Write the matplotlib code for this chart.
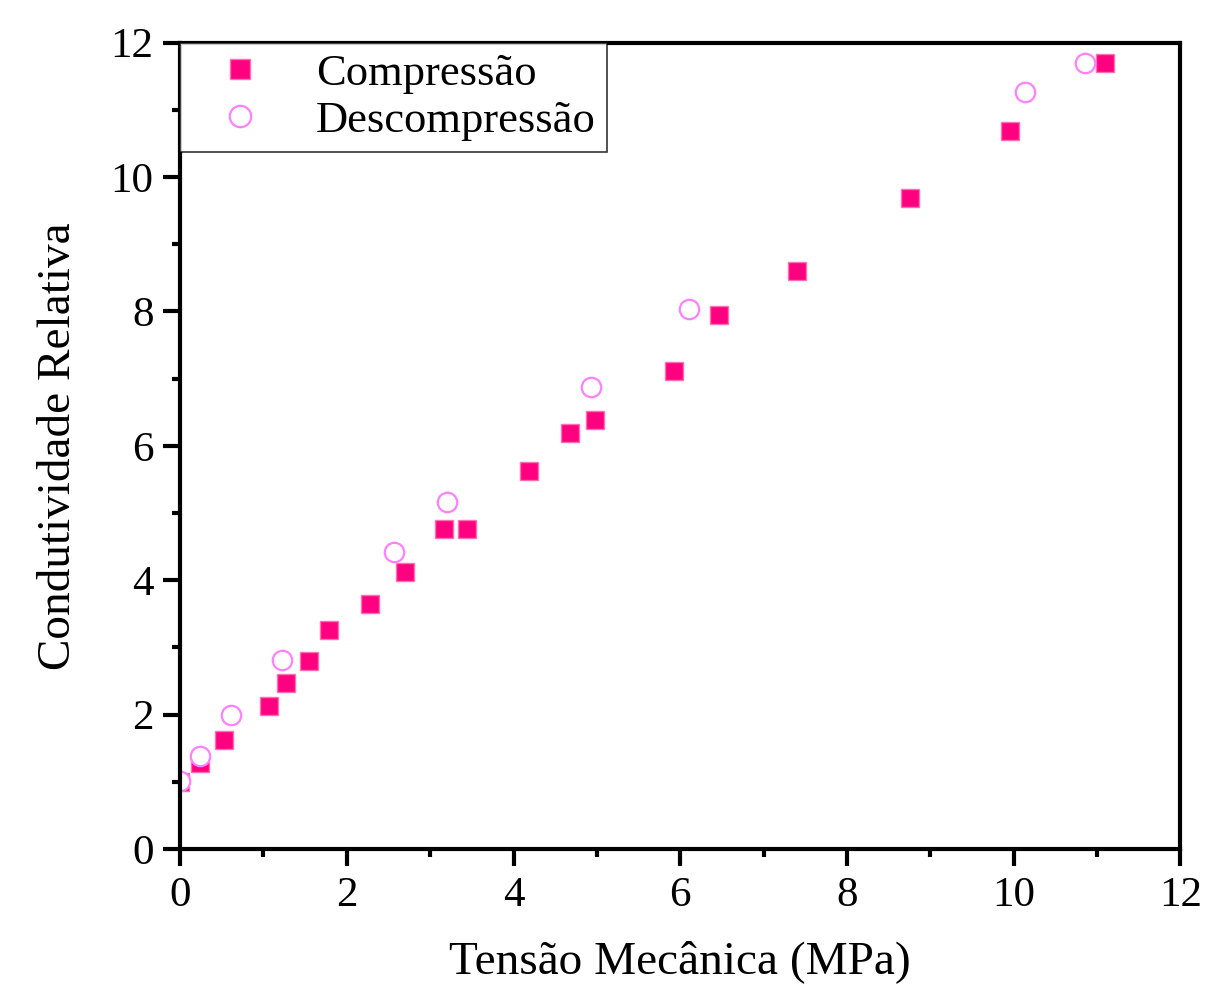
import matplotlib
matplotlib.use("Agg")
import matplotlib.pyplot as plt
from matplotlib.ticker import MultipleLocator

# Compressão (filled squares)
comp_x = [0.0, 0.24, 0.53, 1.07, 1.27, 1.55, 1.79, 2.28, 2.70, 3.16, 3.44,
          4.19, 4.68, 4.98, 5.92, 6.46, 7.40, 8.76, 9.96, 11.10]
comp_y = [1.00, 1.28, 1.62, 2.13, 2.47, 2.80, 3.26, 3.65, 4.12, 4.76, 4.76,
          5.63, 6.19, 6.39, 7.12, 7.95, 8.60, 9.69, 10.69, 11.70]

# Descompressão (open circles)
desc_x = [0.0, 0.24, 0.61, 1.22, 2.56, 3.20, 4.93, 6.10, 10.14, 10.86]
desc_y = [1.01, 1.39, 1.99, 2.81, 4.42, 5.17, 6.88, 8.04, 11.27, 11.70]

plt.rcParams["font.family"] = ["Liberation Serif", "DejaVu Serif"]

fig = plt.figure(figsize=(12.17, 9.93), dpi=100)
ax = fig.add_axes([0.148, 0.145, 0.822, 0.812])

ax.plot(comp_x, comp_y, ls="none", marker="s", markersize=13,
        markerfacecolor="#FF0080", markeredgecolor="#FF70B0",
        markeredgewidth=1, label="Compressão")
ax.plot(desc_x, desc_y, ls="none", marker="o", markersize=14,
        markerfacecolor="white", markeredgecolor="#FF80FF",
        markeredgewidth=1.6, label="Descompressão")

ax.set_xlim(0, 12)
ax.set_ylim(0, 12)
ax.xaxis.set_major_locator(MultipleLocator(2))
ax.xaxis.set_minor_locator(MultipleLocator(1))
ax.yaxis.set_major_locator(MultipleLocator(2))
ax.yaxis.set_minor_locator(MultipleLocator(1))

for s in ax.spines.values():
    s.set_linewidth(3)
ax.tick_params(which="major", direction="out", length=12, width=3,
               labelsize=31, pad=7)
ax.tick_params(which="minor", direction="out", length=6, width=3)
ax.tick_params(axis="x", which="major", pad=8)

ax.set_xlabel("Tensão Mecânica (MPa)", fontsize=34, labelpad=18)
ax.set_ylabel("Condutividade Relativa", fontsize=34, labelpad=22)

leg = ax.legend(loc="upper left", fontsize=32, frameon=True, fancybox=False,
                borderaxespad=0.0, handletextpad=0.6, borderpad=0.25,
                labelspacing=0.15, handlelength=2.2, markerscale=1.1)
leg.get_frame().set_edgecolor("black")
leg.get_frame().set_linewidth(1.2)

fig.savefig("out.png", dpi=100)
